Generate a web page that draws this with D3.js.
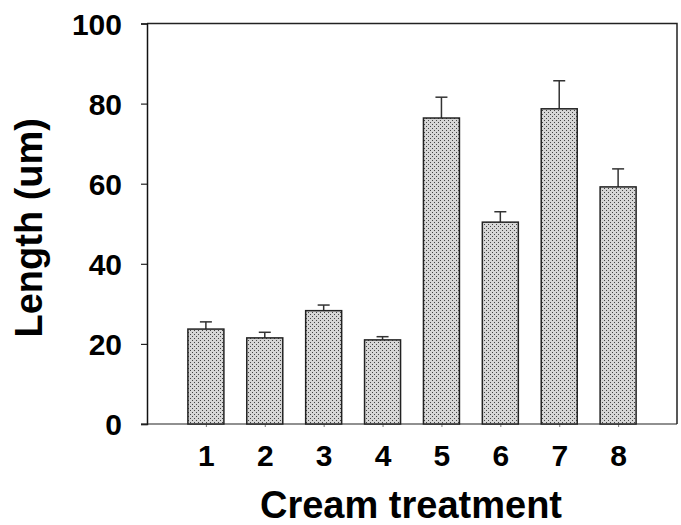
<!DOCTYPE html>
<html lang="en">
  <head>
    <meta charset="utf-8">
    <title>Cream treatment</title>
    <script src="https://cdn.jsdelivr.net/npm/d3@7"></script>
    <style>
      body { margin: 0; background: white; }
      text { font-family: "Liberation Sans", Arial, sans-serif; font-weight: bold; fill: black; }
    </style>
  </head>
  <body>
    <script>
      // values
      var treatments = [1, 2, 3, 4, 5, 6, 7, 8];
      var lengths = [23.7, 21.5, 28.3, 21.0, 76.4, 50.4, 78.7, 59.2];
      var errors = [1.8, 1.4, 1.4, 0.8, 5.2, 2.6, 7.0, 4.5];
      var yTicks = [0, 20, 40, 60, 80, 100];

      var data = treatments.map(function(t, i) {
        return {t: t, v: lengths[i], e: errors[i]};
      });

      var width = 681, height = 525;
      // plot box edges in pixels ("top" is taken by window.top)
      var box = {left: 147, right: 677, top: 23.5, bottom: 424};

      var svg = d3.select("body")
                  .append("svg")
                  .attr("width", width)
                  .attr("height", height);

      // stipple fill
      var pat = svg.append("defs").append("pattern")
                   .attr("id", "dots")
                   .attr("patternUnits", "userSpaceOnUse")
                   .attr("width", 4)
                   .attr("height", 4);
      pat.append("rect").attr("width", 4).attr("height", 4).attr("fill", "#d6d6d6");
      pat.append("rect").attr("x", 0).attr("y", 0).attr("width", 1).attr("height", 1).attr("fill", "#444");
      pat.append("rect").attr("x", 2).attr("y", 2).attr("width", 1).attr("height", 1).attr("fill", "#444");

      var x = d3.scaleLinear()
                .domain([0, 9])
                .range([box.left, box.right]);

      var y = d3.scaleLinear()
                .domain([0, 100])
                .range([box.bottom, box.top]);

      var barW = 36, capW = 12;

      // frame (top + right)
      svg.append("path")
         .attr("d", "M" + box.left + "," + box.top + "H" + box.right + "V" + box.bottom)
         .attr("fill", "none")
         .attr("stroke", "#222")
         .attr("stroke-width", 1.5);

      // y axis
      var yAxis = svg.append("g")
         .attr("transform", "translate(" + box.left + ",0)")
         .call(d3.axisLeft(y).tickValues(yTicks).tickSize(6).tickPadding(19));
      yAxis.select(".domain").attr("stroke", "#111").attr("stroke-width", 1.5);
      yAxis.selectAll(".tick line").attr("stroke", "#222").attr("stroke-width", 1.2);
      yAxis.selectAll(".tick text")
           .attr("font-size", 30)
           .attr("font-family", "Liberation Sans, Arial, sans-serif")
           .attr("font-weight", "bold")
           .attr("dy", "0.36em");

      // x axis
      var xAxis = svg.append("g")
         .attr("transform", "translate(0," + box.bottom + ")")
         .call(d3.axisBottom(x).tickValues(treatments).tickSize(3).tickPadding(18)
                 .tickFormat(d3.format("d")));
      xAxis.select(".domain").attr("d", "M" + (box.left - 6) + ",0H" + box.right)
           .attr("stroke", "#222").attr("stroke-width", 1.2);
      xAxis.selectAll(".tick line").attr("stroke", "#777").attr("stroke-width", 1);
      xAxis.selectAll(".tick text")
           .attr("font-size", 30)
           .attr("font-family", "Liberation Sans, Arial, sans-serif")
           .attr("font-weight", "bold");

      // error bars (upper only)
      var eb = svg.append("g")
                  .selectAll("g")
                  .data(data)
                  .enter()
                  .append("g")
                  .attr("stroke", "#333")
                  .attr("stroke-width", 1.5);
      eb.append("line")
        .attr("x1", d => x(d.t)).attr("x2", d => x(d.t))
        .attr("y1", d => y(d.v)).attr("y2", d => y(d.v + d.e));
      eb.append("line")
        .attr("x1", d => x(d.t) - capW / 2).attr("x2", d => x(d.t) + capW / 2)
        .attr("y1", d => y(d.v + d.e)).attr("y2", d => y(d.v + d.e));

      // bars
      svg.append("g")
         .selectAll("rect")
         .data(data)
         .enter()
         .append("rect")
           .attr("x", d => x(d.t) - barW / 2)
           .attr("y", d => y(d.v))
           .attr("width", barW)
           .attr("height", d => y(0) - y(d.v))
           .attr("fill", "url(#dots)")
           .attr("stroke", "#222")
           .attr("stroke-width", 1.5);

      // titles
      svg.append("text")
         .attr("x", (box.left + box.right) / 2 - 1)
         .attr("y", 518)
         .attr("text-anchor", "middle")
         .attr("font-size", 38)
         .text("Cream treatment");

      svg.append("text")
         .attr("transform", "translate(42," + ((box.top + box.bottom) / 2 + 4) + ") rotate(-90)")
         .attr("text-anchor", "middle")
         .attr("font-size", 38)
         .text("Length (um)");
    </script>
  </body>
</html>
